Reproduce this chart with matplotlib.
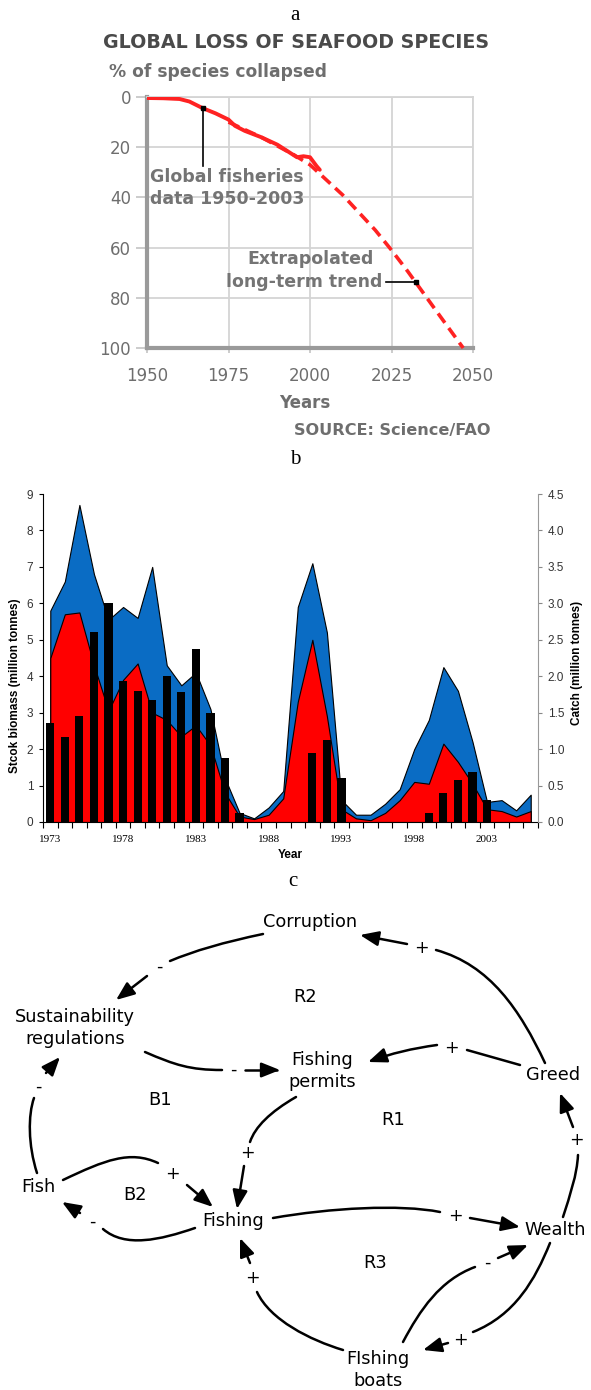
import matplotlib
matplotlib.use("Agg")
import numpy as np
import matplotlib.pyplot as plt
from matplotlib.path import Path
from matplotlib.patches import FancyArrowPatch

#------------------ panel a data ------------------
years_obs = [1950, 1955, 1960, 1963, 1967, 1971, 1975, 1977, 1980, 1985, 1990, 1993, 1996, 1998, 2000, 2002, 2003]
pct_obs = [0.4, 0.5, 0.8, 1.8, 4.4, 6.5, 9.0, 11.5, 13.5, 16.0, 19.0, 21.5, 24.0, 23.6, 24.0, 27.5, 29.0]
years_trend = [1975, 1985, 1995, 2000, 2010, 2020, 2025, 2030, 2040, 2047]
pct_trend = [10.0, 16.0, 23.0, 27.0, 39.0, 53.0, 61.0, 69.5, 87.5, 100.0]
a_xticks = [1950, 1975, 2000, 2025, 2050]
a_yticks = [0, 20, 40, 60, 80, 100]

#------------------ panel b data ------------------
years_b = np.arange(1973, 2007)
total_biomass = [5.8, 6.6, 8.7, 6.8, 5.55, 5.9, 5.6, 7.0, 4.3, 3.75, 4.1, 3.1, 1.2, 0.25, 0.1, 0.4, 0.85,
                 5.9, 7.1, 5.2, 0.6, 0.2, 0.2, 0.5, 0.9, 2.0, 2.8, 4.25, 3.6, 2.2, 0.55, 0.6, 0.32, 0.75]
spawning_biomass = [4.5, 5.7, 5.75, 4.3, 3.05, 3.9, 4.35, 3.0, 2.8, 2.35, 2.65, 2.1, 0.8, 0.15, 0.08, 0.2, 0.65,
                    3.3, 5.0, 2.9, 0.35, 0.1, 0.05, 0.25, 0.6, 1.1, 1.05, 2.15, 1.65, 1.05, 0.35, 0.3, 0.15, 0.3]
catch = [1.36, 1.17, 1.46, 2.6, 3.0, 1.94, 1.8, 1.67, 2.0, 1.78, 2.37, 1.49, 0.88, 0.12, 0, 0, 0,
         0, 0.95, 1.13, 0.6, 0, 0, 0, 0, 0, 0.12, 0.4, 0.58, 0.69, 0.3, 0, 0, 0]
b_xlabels = [1973, 1978, 1983, 1988, 1993, 1998, 2003]

#------------------ panel c data ------------------
node_names = ["Corruption", "R2", "Sustainability\nregulations", "Fishing\npermits", "Greed", "B1", "R1",
              "Fish", "B2", "Fishing", "Wealth", "R3", "FIshing\nboats"]
node_xy = [(310, 922), (305, 997), (75, 1028), (322, 1071), (553, 1075), (160, 1100), (393, 1120),
           (38, 1187), (135, 1195), (233, 1221), (555, 1230), (375, 1263), (378, 1370)]
# each link: tail curve, polarity sign position, sign, arrow head segment
links = [
    ([(263, 934), (205, 946), (170, 961)], (159, 967), "-", [(147, 976), (116, 1000)]),
    ([(545, 1063), (520, 1010), (490, 965), (436, 950)], (421, 948), "+", [(407, 944), (360, 935)]),
    ([(145, 1052), (175, 1065), (190, 1070), (222, 1070)], (233, 1070), "-", [(245, 1070), (280, 1070)]),
    ([(520, 1065), (467, 1050)], (451, 1048), "+", [(437, 1045), (400, 1050), (368, 1062)]),
    ([(296, 1097), (270, 1112), (255, 1127), (250, 1142)], (247, 1153), "+", [(244, 1166), (237, 1209)]),
    ([(37, 1173), (28, 1145), (28, 1115), (34, 1098)], (38, 1087), "-", [(46, 1073), (60, 1057)]),
    ([(63, 1180), (105, 1160), (130, 1150), (158, 1163)], (172, 1174), "+", [(187, 1185), (213, 1207)]),
    ([(195, 1228), (160, 1240), (125, 1248), (103, 1229)], (92, 1222), "-", [(80, 1213), (62, 1202)]),
    ([(273, 1218), (330, 1208), (400, 1204), (440, 1212)], (455, 1216), "+", [(470, 1218), (520, 1227)]),
    ([(343, 1350), (310, 1340), (270, 1320), (257, 1292)], (252, 1278), "+", [(250, 1263), (240, 1238)]),
    ([(403, 1342), (420, 1310), (440, 1280), (475, 1267)], (487, 1263), "-", [(498, 1258), (528, 1245)]),
    ([(550, 1243), (535, 1280), (515, 1315), (473, 1332)], (460, 1340), "+", [(448, 1343), (423, 1350)]),
    ([(563, 1217), (570, 1195), (577, 1175), (578, 1155)], (576, 1140), "+", [(573, 1127), (560, 1093)]),
]

W, H = 591, 1390
fig = plt.figure(figsize=(W / 100, H / 100), dpi=100)


def fax(l, t, r, b):
    return fig.add_axes([l / W, 1 - b / H, (r - l) / W, (b - t) / H])


red = "#ff2222"
gray_txt = "#6e6e6e"

#------------------ panel a ------------------
axa = fax(147, 97, 473, 348)
axa.plot(years_trend, pct_trend, color=red, lw=2.6, ls=(0, (3.2, 1.8)), zorder=3, clip_on=False)
axa.plot(years_obs, pct_obs, color=red, lw=2.8, zorder=4, solid_capstyle="round")
axa.set_xlim(1950, 2050)
axa.set_ylim(100, 0)
axa.set_xticks(a_xticks)
axa.set_yticks(a_yticks)
axa.grid(color="#d4d4d4", lw=1.3)
for s in ["left", "bottom"]:
    axa.spines[s].set_color("#9a9a9a")
    axa.spines[s].set_linewidth(3)
for s in ["top", "right"]:
    axa.spines[s].set_color("#d4d4d4")
    axa.spines[s].set_linewidth(1.3)
axa.tick_params(width=1.3, color="#c8c8c8", labelsize=12, labelcolor=gray_txt)
axa.tick_params(axis="x", length=3.6, pad=10)
axa.tick_params(axis="y", length=8, pad=3.6)
axa.plot([1967.3, 1967.3], [4.5, 27.5], color="k", lw=1.2, zorder=5)
axa.plot(1967.3, 4.5, "s", ms=3.5, color="k", zorder=5)
afont = dict(ha="center", va="center", fontsize=12.5, fontweight="bold", color="#747474")
axa.text(1974.5, 32, "Global fisheries", **afont)
axa.text(1974.5, 40.5, "data 1950-2003", **afont)
axa.text(2000.3, 64.5, "Extrapolated", **afont)
afont["ha"] = "right"
axa.text(2022.3, 73.8, "long-term trend", **afont)
axa.plot([2023.2, 2032.5], [73.8, 73.8], color="k", lw=1.2, zorder=5)
axa.plot(2032.5, 73.8, "s", ms=3.5, color="k", zorder=5)

#------------------ panel b ------------------
axb = fax(43, 494, 538, 822)
axb.fill_between(years_b, total_biomass, color="#0a6cc4", edgecolor="k", lw=0.8)
axb.fill_between(years_b, spawning_biomass, color="#ff0000", edgecolor="k", lw=0.8)
axb.set_xlim(1972.5, 2006.5)
axb.set_ylim(0, 9)
axb.set_xticks(np.arange(1972.5, 2007, 1))
axb.set_xticklabels([])
axb.set_xticks(b_xlabels, minor=True)
axb.set_xticklabels([str(v) for v in b_xlabels], minor=True, family="Liberation Serif", fontsize=8)
axb.tick_params(axis="x", which="major", length=4, width=0.8, direction="out")
axb.tick_params(axis="x", which="minor", length=0, pad=9)
axb.set_yticks(range(10))
axb.tick_params(axis="y", length=3, width=0.8, labelsize=8.5, labelcolor="#333333", pad=4)
for lab in axb.get_yticklabels():
    lab.set_family("Liberation Sans")
axb.spines["top"].set_visible(False)
axb.spines["right"].set_visible(False)

ax2 = axb.twinx()
ax2.bar(years_b, catch, width=0.56, color="k")
ax2.set_ylim(0, 4.5)
ax2.set_yticks(np.arange(0, 4.51, 0.5))
ax2.set_yticklabels(["%.1f" % v for v in np.arange(0, 4.51, 0.5)], family="Liberation Sans", fontsize=8.5,
                    color="#333333")
ax2.tick_params(axis="y", length=3, width=0.8, color="#888888", pad=4)
for s in ["top", "left", "bottom"]:
    ax2.spines[s].set_visible(False)
ax2.spines["right"].set_color("#999999")
ax2.spines["right"].set_linewidth(0.8)

#------------------ overlay: labels and panel c ------------------
axo = fig.add_axes([0, 0, 1, 1])
axo.set_xlim(0, W)
axo.set_ylim(H, 0)
axo.axis("off")
serif = "Liberation Serif"
axo.text(295, 15, "a", ha="center", va="center", family=serif, fontsize=15)
axo.text(295, 460, "b", ha="center", va="center", family=serif, fontsize=15)
axo.text(293, 882, "c", ha="center", va="center", family=serif, fontsize=15)

axo.text(296, 43, "GLOBAL LOSS OF SEAFOOD SPECIES", ha="center", va="center", fontsize=13.7,
         fontweight="bold", color="#4a4a4a")
axo.text(109, 72, "% of species collapsed", ha="left", va="center", fontsize=12.3,
         fontweight="bold", color=gray_txt)
axo.text(305, 403, "Years", ha="center", va="center", fontsize=12, fontweight="bold", color=gray_txt)
axo.text(490, 430, "SOURCE: Science/FAO", ha="right", va="center", fontsize=11.6,
         fontweight="bold", color=gray_txt)

axo.text(15, 686, "Stcok biomass (million tonnes)", rotation=90, ha="center", va="center",
         family="Liberation Sans", fontweight="bold", fontsize=8.5)
axo.text(577, 663, "Catch (million tonnes)", rotation=90, ha="center", va="center",
         family="Liberation Sans", fontweight="bold", fontsize=8.5)
axo.text(290, 855, "Year", ha="center", va="center", family="Liberation Sans", fontweight="bold",
         fontsize=8.5)

for name, (nx, ny) in zip(node_names, node_xy):
    axo.text(nx, ny, name, ha="center", va="center", fontsize=12.8, linespacing=1.25)


def bez(pts):
    if len(pts) == 2:
        codes = [Path.MOVETO, Path.LINETO]
    elif len(pts) == 3:
        codes = [Path.MOVETO, Path.CURVE3, Path.CURVE3]
    else:
        codes = [Path.MOVETO, Path.CURVE4, Path.CURVE4, Path.CURVE4]
    return Path(pts, codes)


for tail, spos, sign, head in links:
    axo.add_patch(FancyArrowPatch(path=bez(tail), arrowstyle="-", lw=1.8, color="k", capstyle="round"))
    axo.text(spos[0], spos[1], sign, ha="center", va="center", fontsize=12.5)
    axo.add_patch(FancyArrowPatch(path=bez(head), arrowstyle="-|>,head_length=0.7,head_width=0.28",
                                  mutation_scale=16, lw=1.8, color="k"))

fig.savefig("out.png", dpi=100)
